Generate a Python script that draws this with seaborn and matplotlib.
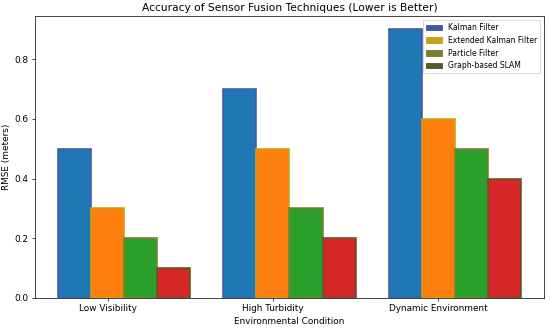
import numpy as np
import pandas as pd
import matplotlib
matplotlib.use('Agg')
import matplotlib.pyplot as plt
from matplotlib.patches import Patch
import seaborn as sns

# data
conditions = ['Low Visibility', 'High Turbidity', 'Dynamic Environment']
techniques = ['Kalman Filter', 'Extended Kalman Filter',
              'Particle Filter', 'Graph-based SLAM']
kalman   = [0.5, 0.7, 0.9]
ekf      = [0.3, 0.5, 0.6]
particle = [0.2, 0.3, 0.5]
slam     = [0.1, 0.2, 0.4]

face_colors = ['#1f77b4', '#ff7f0e', '#2ca02c', '#d62728']
edge_colors = ['#4058a8', '#c8a216', '#7e7e2a', '#5a5a26']

rows = []
for tech, vals in zip(techniques, [kalman, ekf, particle, slam]):
    for cond, v in zip(conditions, vals):
        rows.append({'Condition': cond, 'Technique': tech, 'RMSE': v})
df = pd.DataFrame(rows)

DPI = 64
fig, ax = plt.subplots(figsize=(550 / DPI, 331 / DPI), dpi=DPI)

sns.barplot(
    data=df, x='Condition', y='RMSE', hue='Technique',
    hue_order=techniques, palette=face_colors,
    saturation=1, errorbar=None, width=0.8, ax=ax
)

# bar outlines in the darker legend colours
for container, ec in zip(ax.containers, edge_colors):
    for bar in container:
        bar.set_edgecolor(ec)
        bar.set_linewidth(1.8)

# ticks sit one bar-width left of the group centre
ax.set_xticks(np.arange(len(conditions)) - 0.1)
ax.set_xticklabels(conditions)
ax.set_xlim(-0.54, 2.54)
ax.set_ylim(0, 0.945)

ax.set_xlabel('Environmental Condition')
ax.set_ylabel('RMSE (meters)')
ax.set_title('Accuracy of Sensor Fusion Techniques (Lower is Better)',
             fontsize=12)

handles = [Patch(facecolor=c, edgecolor=c) for c in edge_colors]
ax.legend(handles, techniques, loc='upper right', fontsize=8.6)

plt.subplots_adjust(left=0.0636, right=0.989, top=0.9517, bottom=0.0997)
plt.savefig('out.png', dpi=DPI)
